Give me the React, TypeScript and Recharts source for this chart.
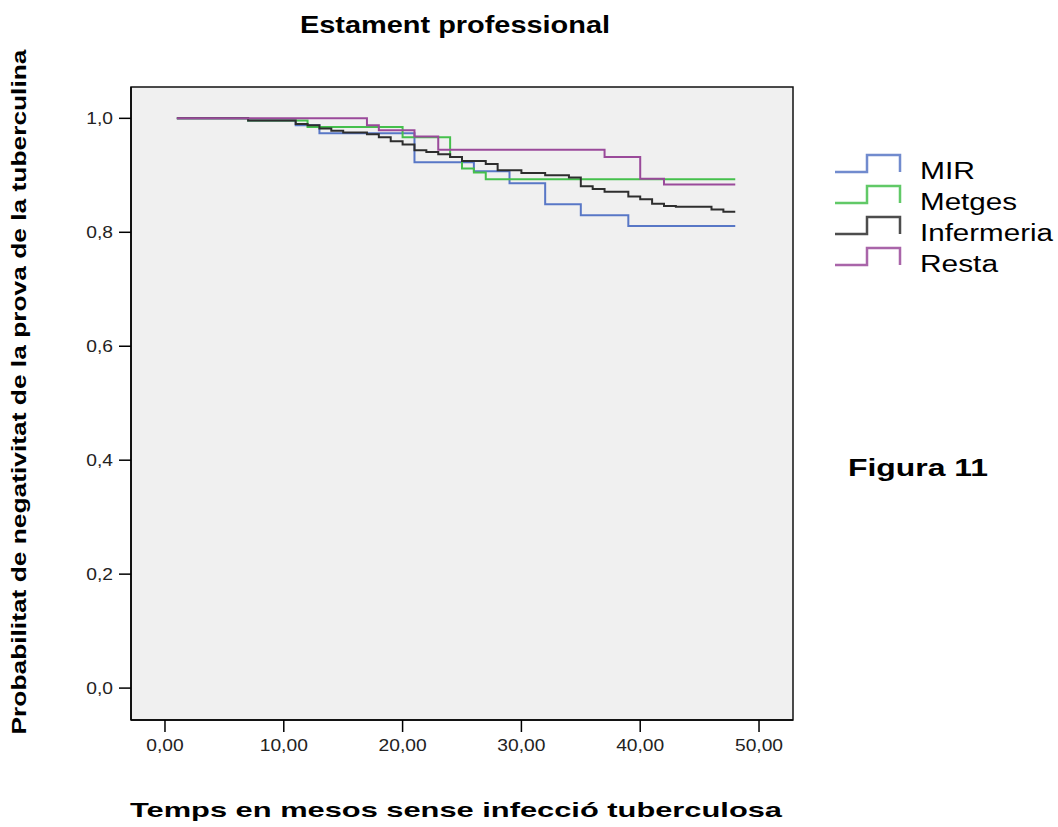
import { LineChart, Line, XAxis, YAxis, CartesianGrid, ReferenceArea } from "recharts"

// temps (mesos) i probabilitat, corbes de Kaplan-Meier llegides del gràfic
const mirTime = [1, 7, 11, 13, 21, 26, 29, 32, 35, 39, 48]
const mirValue = [1.0, 0.996, 0.988, 0.974, 0.923, 0.907, 0.886, 0.849, 0.83, 0.811, 0.811]

const metgesTime = [1, 7, 12, 20, 24, 25, 26, 27, 48]
const metgesValue = [1.0, 0.996, 0.985, 0.967, 0.932, 0.912, 0.905, 0.893, 0.893]

const infTime = [1, 7, 11, 12, 13, 14, 15, 17, 18, 19, 20, 21, 22, 23, 24, 25, 27, 28, 30, 32, 34, 35, 36, 37, 39, 40, 41, 42, 43, 46, 47, 48]
const infValue = [1.0, 0.996, 0.99, 0.988, 0.982, 0.978, 0.975, 0.972, 0.967, 0.96, 0.954, 0.944, 0.941, 0.937, 0.932, 0.925, 0.92, 0.909, 0.904, 0.9, 0.896, 0.881, 0.876, 0.871, 0.863, 0.858, 0.85, 0.846, 0.845, 0.84, 0.836, 0.836]

const restaTime = [1, 17, 18, 21, 23, 37, 40, 42, 48]
const restaValue = [1.0, 0.988, 0.979, 0.968, 0.945, 0.932, 0.894, 0.884, 0.884]

const xTicks = [0, 10, 20, 30, 40, 50]
const yTicks = [0, 0.2, 0.4, 0.6, 0.8, 1.0]
const xDomain = [-2.86, 52.86]
const yDomain = [-0.056, 1.055]

const series = [
  { name: "MIR", color: "#5877c6", time: mirTime, value: mirValue },
  { name: "Metges", color: "#45c04c", time: metgesTime, value: metgesValue },
  { name: "Infermeria", color: "#2e2e2e", time: infTime, value: infValue },
  { name: "Resta", color: "#9a4a9a", time: restaTime, value: restaValue },
]

const font = "'Liberation Sans', Arial, sans-serif"

// amplada aproximada d'un número en Arial, per estirar-lo com a l'original
const numWidth = (s: string, fs: number) =>
  s.split("").reduce((w, c) => w + (c === "," ? 0.278 : 0.556), 0) * fs * 1.13

const XTick = ({ x, y, payload }: any) => {
  const s = payload.value.toFixed(2).replace(".", ",")
  return (
    <text x={x} y={y} dy={15} textAnchor="middle" fontSize={17} fill="#222" fontFamily={font} textLength={numWidth(s, 17)} lengthAdjust="spacingAndGlyphs">
      {s}
    </text>
  )
}

const YTick = ({ x, y, payload }: any) => {
  const s = payload.value.toFixed(1).replace(".", ",")
  return (
    <text x={x} y={y} dy={6} textAnchor="end" fontSize={17} fill="#222" fontFamily={font} textLength={numWidth(s, 17)} lengthAdjust="spacingAndGlyphs">
      {s}
    </text>
  )
}

// amplades de la llegenda mesurades a l'original
const legendWidth: Record<string, number> = { MIR: 55, Metges: 97, Infermeria: 133, Resta: 78 }

export default function App() {
  return (
    <div style={{ position: "absolute", left: 0, top: 0, width: 1058, height: 827, background: "#fff" }}>
      <LineChart width={1058} height={827} margin={{ top: 87, right: 265, bottom: 67, left: 0 }}>
        <CartesianGrid fill="#f0f0f0" horizontal={false} vertical={false} />
        <XAxis
          dataKey="t"
          type="number"
          domain={xDomain}
          ticks={xTicks}
          allowDataOverflow
          tick={<XTick />}
          tickSize={12}
          tickMargin={4}
          stroke="#000"
          strokeWidth={1.5}
          height={40}
        />
        <YAxis
          type="number"
          domain={yDomain}
          ticks={yTicks}
          allowDataOverflow
          tick={<YTick />}
          tickSize={12}
          tickMargin={6}
          stroke="#000"
          strokeWidth={1.5}
          width={131}
        />
        {/* marc del gràfic */}
        <ReferenceArea x1={xDomain[0]} x2={xDomain[1]} y1={yDomain[0]} y2={yDomain[1]} fill="none" fillOpacity={0} stroke="#111" strokeWidth={1.5} ifOverflow="visible" />
        {series.map((s) => (
          <Line
            key={s.name}
            name={s.name}
            data={s.time.map((t, i) => ({ t, v: s.value[i] }))}
            dataKey="v"
            type="stepAfter"
            stroke={s.color}
            strokeWidth={2}
            dot={false}
            activeDot={false}
            isAnimationActive={false}
          />
        ))}
      </LineChart>
      <svg width={1058} height={827} style={{ position: "absolute", left: 0, top: 0, pointerEvents: "none" }} fontFamily={font}>
        <text x={455} y={33} textAnchor="middle" fontSize={23} fontWeight="bold" textLength={310} lengthAdjust="spacingAndGlyphs">
          Estament professional
        </text>
        <text x={0} y={0} transform="translate(26 392) rotate(-90)" textAnchor="middle" fontSize={21} fontWeight="bold" textLength={685} lengthAdjust="spacingAndGlyphs">
          Probabilitat de negativitat de la prova de la tuberculina
        </text>
        <text x={456} y={817} textAnchor="middle" fontSize={21} fontWeight="bold" textLength={652} lengthAdjust="spacingAndGlyphs">
          Temps en mesos sense infecció tuberculosa
        </text>
        <text x={848} y={476} fontSize={23} fontWeight="bold" textLength={140} lengthAdjust="spacingAndGlyphs">
          Figura 11
        </text>
        {series.map((s, i) => {
          const cy = 171 + i * 31
          return (
            <g key={s.name}>
              <path d={`M835,${cy + 1} H867 V${cy - 16} H900 V${cy + 1}`} fill="none" stroke={s.color} strokeWidth={2.5} opacity={0.85} />
              <text x={920} y={cy + 8} fontSize={23} textLength={legendWidth[s.name]} lengthAdjust="spacingAndGlyphs">
                {s.name}
              </text>
            </g>
          )
        })}
      </svg>
    </div>
  )
}
